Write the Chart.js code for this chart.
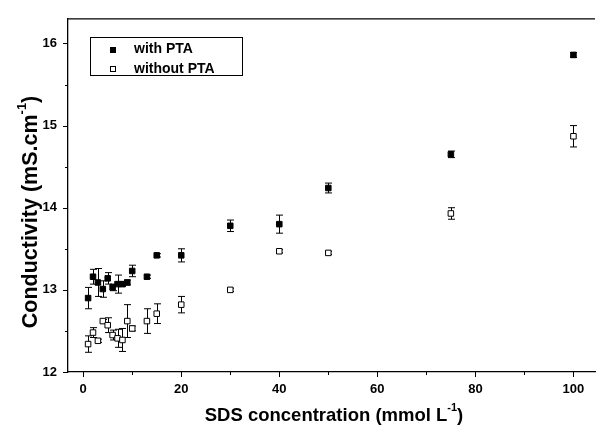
<!DOCTYPE html>
<html>
<head>
<meta charset="utf-8">
<script src="https://cdn.jsdelivr.net/npm/chart.js@4.4.0/dist/chart.umd.min.js"></script>
<style>
  html, body { margin: 0; padding: 0; background: #fff; }
  #wrap { width: 600px; height: 430px; }
</style>
</head>
<body>
<div id="wrap"><canvas id="chart" width="600" height="430"></canvas></div>
<script>
// SDS concentration (mmol/L)
var conc = [1, 2, 3, 4, 5, 6, 7, 8, 9, 10, 13, 15, 20, 30, 40, 50, 75, 100];
// conductivity with PTA (mS/cm) and its error
var withPTA = [12.90, 13.16, 13.09, 13.01, 13.14, 13.03, 13.07, 13.07, 13.09, 13.23, 13.16, 13.42, 13.42, 13.78, 13.80, 14.24, 14.65, 15.86];
var withPTAErr = [0.13, 0.09, 0.17, 0.10, 0.07, 0.04, 0.11, 0.03, 0.03, 0.07, 0.02, 0.02, 0.08, 0.07, 0.11, 0.06, 0.04, 0.03];
// conductivity without PTA
var withoutPTA = [12.34, 12.48, 12.38, 12.62, 12.57, 12.45, 12.41, 12.39, 12.62, 12.53, 12.62, 12.71, 12.82, 13.00, 13.47, 13.45, 13.93, 14.87];
var withoutPTAErr = [0.10, 0.06, 0.02, 0.02, 0.09, 0.06, 0.11, 0.14, 0.20, 0.03, 0.15, 0.12, 0.10, 0.02, 0.02, 0.02, 0.07, 0.13];

var xTicks = [0, 20, 40, 60, 80, 100];
var yTicks = [12, 13, 14, 15, 16];

var fontFam = "'Liberation Sans', Arial, sans-serif";

function makePoints(ys, errs) {
    var pts = [];
    for (var i = 0; i < conc.length; i++) {
        pts.push({ x: conc[i], y: ys[i], err: errs[i] });
    }
    return pts;
}

// error bars, ticks, top frame, legend and axis titles
var extras = {
    id: 'extras',
    beforeDatasetsDraw: function (chart) {
        var ctx = chart.ctx, xs = chart.scales.x, ys = chart.scales.y;
        ctx.save();
        ctx.strokeStyle = '#000';
        ctx.lineWidth = 1;
        chart.data.datasets.forEach(function (ds) {
            ds.data.forEach(function (p) {
                var px = Math.round(xs.getPixelForValue(p.x)) + 0.5;
                var top = ys.getPixelForValue(p.y + p.err);
                var bot = ys.getPixelForValue(p.y - p.err);
                ctx.beginPath();
                ctx.moveTo(px, top); ctx.lineTo(px, bot);
                ctx.moveTo(px - 3.5, top); ctx.lineTo(px + 3.5, top);
                ctx.moveTo(px - 3.5, bot); ctx.lineTo(px + 3.5, bot);
                ctx.stroke();
            });
        });
        ctx.restore();
    },
    afterDraw: function (chart) {
        var ctx = chart.ctx, xs = chart.scales.x, ys = chart.scales.y;
        var area = chart.chartArea;
        ctx.save();
        ctx.strokeStyle = '#000';
        ctx.lineWidth = 1.3;
        // top frame
        ctx.beginPath();
        ctx.moveTo(area.left, area.top);
        ctx.lineTo(area.right, area.top);
        ctx.stroke();
        ctx.lineWidth = 1;
        // x ticks
        for (var v = 0; v <= 100; v += 10) {
            var px = Math.round(xs.getPixelForValue(v)) + 0.5;
            var len = (v % 20 === 0) ? 5 : 3;
            ctx.beginPath();
            ctx.moveTo(px, area.bottom);
            ctx.lineTo(px, area.bottom + len);
            ctx.stroke();
        }
        // y ticks
        for (var w = 12; w <= 16; w += 0.5) {
            var py = Math.round(ys.getPixelForValue(w)) + 0.5;
            var l = (w % 1 === 0) ? 5 : 3;
            ctx.beginPath();
            ctx.moveTo(area.left, py);
            ctx.lineTo(area.left - l, py);
            ctx.stroke();
        }

        // legend
        ctx.strokeRect(90.5, 37.5, 152, 38);
        ctx.fillStyle = '#000';
        ctx.fillRect(110, 47, 6, 6);
        ctx.fillStyle = '#fff';
        ctx.fillRect(110, 66, 6, 6);
        ctx.strokeRect(110.5, 66.5, 5, 5);
        ctx.fillStyle = '#000';
        ctx.font = 'bold 14px ' + fontFam;
        ctx.textBaseline = 'middle';
        ctx.textAlign = 'left';
        ctx.fillText(chart.data.datasets[0].label, 134, 49.5);
        ctx.fillText(chart.data.datasets[1].label, 134, 69);

        // x title with superscript
        drawTitle(ctx, ['SDS concentration (mmol L', '-1', ')'], 334, 416, 0, 18.5);
        // y title
        drawTitle(ctx, ['Conductivity (mS.cm', '-1', ')'], 31, 212, -Math.PI / 2, 21.5);
        ctx.restore();
    }
};

function drawTitle(ctx, parts, cx, cy, rot, size) {
    var big = 'bold ' + size + 'px ' + fontFam, small = 'bold ' + Math.round(size * 0.6) + 'px ' + fontFam;
    ctx.save();
    ctx.translate(cx, cy);
    ctx.rotate(rot);
    ctx.font = big; var w1 = ctx.measureText(parts[0]).width; var w3 = ctx.measureText(parts[2]).width;
    ctx.font = small; var w2 = ctx.measureText(parts[1]).width;
    var x0 = -(w1 + w2 + w3) / 2;
    ctx.fillStyle = '#000';
    ctx.textBaseline = 'middle';
    ctx.textAlign = 'left';
    ctx.font = big; ctx.fillText(parts[0], x0, 0);
    ctx.font = small; ctx.fillText(parts[1], x0 + w1, -size * 0.42);
    ctx.font = big; ctx.fillText(parts[2], x0 + w1 + w2, 0);
    ctx.restore();
}

new Chart(document.getElementById('chart').getContext('2d'), {
    type: 'scatter',
    data: {
        datasets: [{
            label: 'with PTA',
            data: makePoints(withPTA, withPTAErr),
            pointStyle: 'rect',
            pointRadius: 3.9,
            backgroundColor: '#000',
            borderColor: '#000',
            borderWidth: 1
        }, {
            label: 'without PTA',
            data: makePoints(withoutPTA, withoutPTAErr),
            pointStyle: 'rect',
            pointRadius: 3.9,
            backgroundColor: '#fff',
            borderColor: '#000',
            borderWidth: 1
        }]
    },
    options: {
        responsive: false,
        animation: false,
        layout: { padding: { top: 17, left: 0, right: 0, bottom: 0 } },
        plugins: { legend: { display: false }, tooltip: { enabled: false } },
        scales: {
            x: {
                type: 'linear',
                min: -3.1,
                max: 104.4,
                grid: { display: false, drawTicks: false },
                border: { display: true, color: '#000', width: 1.3 },
                afterBuildTicks: function (s) {
                    s.ticks = xTicks.map(function (v) { return { value: v }; });
                },
                afterFit: function (s) { s.height = 58; },
                ticks: {
                    autoSkip: false,
                    maxRotation: 0,
                    padding: 10,
                    color: '#000',
                    font: { family: fontFam, size: 13, weight: 'bold' }
                }
            },
            y: {
                type: 'linear',
                min: 12,
                max: 16.3,
                grid: { display: false, drawTicks: false },
                border: { display: true, color: '#000', width: 1.3 },
                afterBuildTicks: function (s) {
                    s.ticks = yTicks.map(function (v) { return { value: v }; });
                },
                afterFit: function (s) { s.width = 68; },
                ticks: {
                    autoSkip: false,
                    padding: 11,
                    color: '#000',
                    font: { family: fontFam, size: 13, weight: 'bold' }
                }
            }
        }
    },
    plugins: [extras]
});
</script>
</body>
</html>
